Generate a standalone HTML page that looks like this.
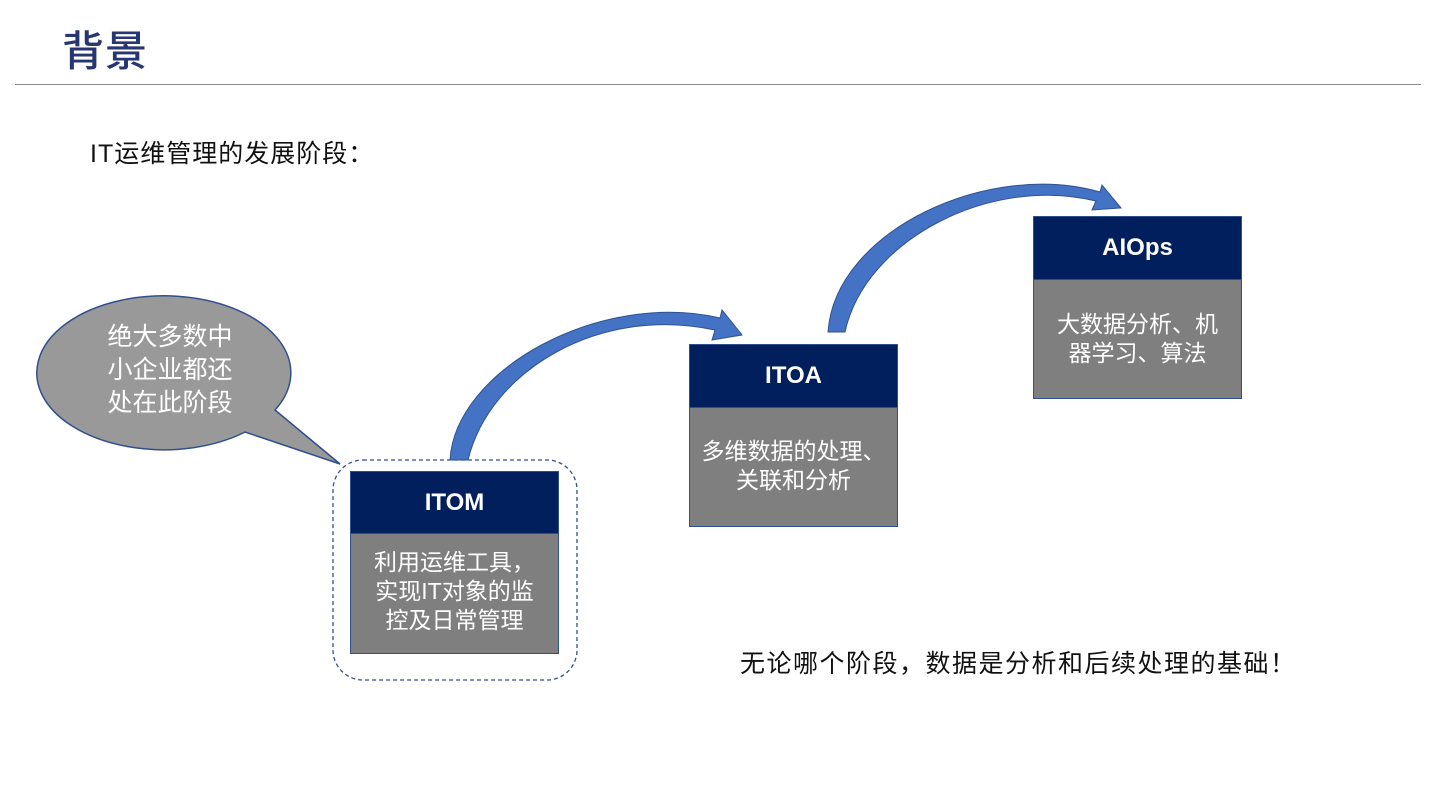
<!DOCTYPE html>
<html><head><meta charset="utf-8"><style>
body{margin:0;width:1440px;height:810px;background:#fff;position:relative;overflow:hidden;font-family:"Liberation Sans","Noto Sans CJK SC",sans-serif}
.a{position:absolute}
.h{background:#001f5c;color:#fff;font-weight:bold;font-size:24px;display:flex;align-items:center;justify-content:center;border:1px solid #2f4f8f;box-sizing:border-box}
.b{background:#7f7f7f;color:#fff;font-size:23px;line-height:29px;text-align:center;border:1px solid #2f4f8f;border-top:none;box-sizing:border-box}
</style></head><body>
<div class="a" style="left:62px;top:18px;font-size:42px;color:#263672;font-weight:500;letter-spacing:1px">背景</div>
<div class="a" style="left:15px;top:84px;width:1406px;height:1px;background:#8a8a8a"></div>
<div class="a" style="left:90px;top:134px;font-size:25px;letter-spacing:1px;color:#111">IT运维管理的发展阶段：</div>
<svg class="a" style="left:0;top:0" width="1440" height="810">
<path d="M275,410 L340,464 L245,432 A127,77 0 1,1 275,410 Z" fill="#999" stroke="#2f4f8f" stroke-width="1.5"/>
<rect x="333" y="460" width="244" height="220" rx="30" fill="none" stroke="#2f4f8f" stroke-width="1.3" stroke-dasharray="4,3"/>
<path d="M450,460 C455,370 600,290 720,318 L722,310 L742,335 L712,340 L715,330 C600,305 490,370 468,460 Z" fill="#4472c4" stroke="#2f528f" stroke-width="1"/>
<path d="M828,332 C835,230 990,160 1100,192 L1102,185 L1121,208 L1092,210 L1096,201 C990,175 865,240 845,332 Z" fill="#4472c4" stroke="#2f528f" stroke-width="1"/>
</svg>
<div class="a" style="left:95px;top:321px;width:150px;text-align:center;color:#fff;font-size:25px;line-height:33px">绝大多数中<br>小企业都还<br>处在此阶段</div>
<div class="a h" style="left:350px;top:471px;width:209px;height:63px">ITOM</div>
<div class="a b" style="left:350px;top:534px;width:209px;height:120px;padding-top:14px">利用运维工具，<br>实现IT对象的监<br>控及日常管理</div>
<div class="a h" style="left:689px;top:344px;width:209px;height:64px">ITOA</div>
<div class="a b" style="left:689px;top:408px;width:209px;height:119px;padding-top:29px">多维数据的处理、<br>关联和分析</div>
<div class="a h" style="left:1033px;top:216px;width:209px;height:64px">AIOps</div>
<div class="a b" style="left:1033px;top:280px;width:209px;height:119px;padding-top:30px">大数据分析、机<br>器学习、算法</div>
<div class="a" style="left:740px;top:644px;font-size:25px;letter-spacing:1.5px;color:#111">无论哪个阶段，数据是分析和后续处理的基础！</div>
</body></html>
